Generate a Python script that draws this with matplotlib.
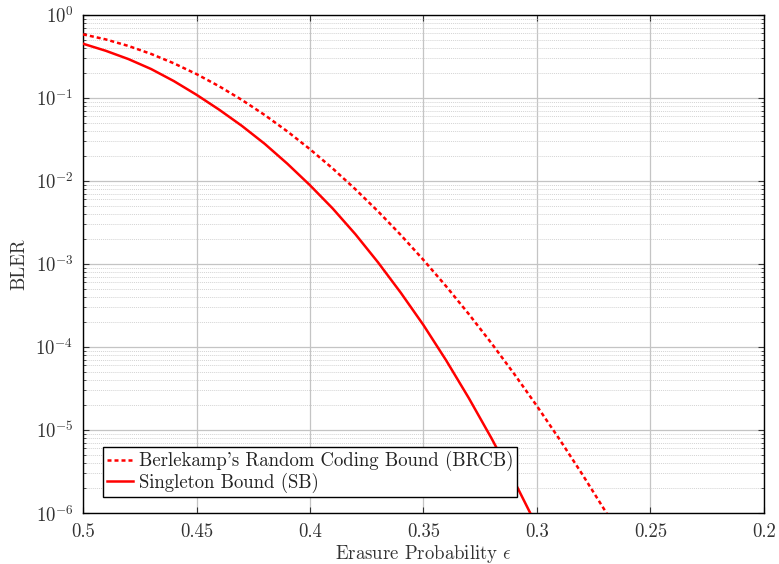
import math
import matplotlib
matplotlib.use("Agg")
import matplotlib.pyplot as plt
from matplotlib.ticker import FixedLocator, FuncFormatter, LogLocator, NullFormatter

plt.rcParams["font.family"] = ["cmr10", "DejaVu Serif"]
plt.rcParams["mathtext.fontset"] = "cm"
plt.rcParams["axes.formatter.use_mathtext"] = True

# Singleton bound
eps_sb = [0.50, 0.49, 0.48, 0.47, 0.46, 0.45, 0.44, 0.43, 0.42, 0.41, 0.40,
          0.39, 0.38, 0.37, 0.36, 0.35, 0.34, 0.33, 0.32, 0.31, 0.30]
bler_sb = [0.4508, 0.3707, 0.2944, 0.2234, 0.1600, 0.1094, 0.07228, 0.04613,
           0.02812, 0.01618, 0.008892, 0.004667, 0.002286, 0.001045,
           4.508e-4, 1.837e-4, 6.90e-5, 2.42e-5, 7.93e-6, 2.42e-6, 6.90e-7]

# Berlekamp's random coding bound
eps_brcb = [0.50, 0.49, 0.48, 0.47, 0.46, 0.45, 0.44, 0.43, 0.42, 0.41, 0.40,
            0.39, 0.38, 0.37, 0.36, 0.35, 0.34, 0.33, 0.32, 0.31, 0.30, 0.29,
            0.28, 0.27, 0.26]
bler_brcb = [0.5848, 0.5082, 0.4236, 0.3396, 0.2618, 0.1941, 0.1384, 0.09484,
             0.06252, 0.03963, 0.02415, 0.01416, 0.007962, 0.004305,
             0.002239, 0.001119, 5.383e-4, 2.489e-4, 1.107e-4, 4.732e-5,
             1.945e-5, 7.69e-6, 2.92e-6, 1.067e-6, 3.74e-7]

x_ticks = [0.5, 0.45, 0.4, 0.35, 0.3, 0.25, 0.2]
x_tick_labels = ["0.5", "0.45", "0.4", "0.35", "0.3", "0.25", "0.2"]
y_ticks = [1e-6, 1e-5, 1e-4, 1e-3, 1e-2, 1e-1, 1e0]

label_brcb = "Berlekamp's Random Coding Bound (BRCB)"
label_sb = "Singleton Bound (SB)"

FS = 13.5

fig = plt.figure(figsize=(7.79, 5.64), dpi=100)
ax = fig.add_axes([0.1066, 0.0904, 0.874, 0.883])

ax.plot(eps_brcb, bler_brcb, color="#ff0000", lw=1.8, ls=(0, (1.6, 1.2)),
        label=label_brcb, zorder=3)
ax.plot(eps_sb, bler_sb, color="#ff0000", lw=1.8, ls="-",
        label=label_sb, zorder=3)

ax.set_yscale("log")
ax.set_xlim(0.5, 0.2)
ax.set_ylim(1e-6, 1e0)

ax.xaxis.set_major_locator(FixedLocator(x_ticks))
ax.set_xticklabels(x_tick_labels)
ax.yaxis.set_major_locator(FixedLocator(y_ticks))
ax.yaxis.set_major_formatter(FuncFormatter(lambda v, p: r"$10^{%d}$" % round(math.log10(v))))
ax.yaxis.set_minor_locator(LogLocator(base=10, subs=range(2, 10), numticks=20))
ax.yaxis.set_minor_formatter(NullFormatter())

ax.grid(True, which="major", color="#c4c4c4", lw=0.9, ls="-", zorder=0)
ax.grid(True, which="minor", axis="y", color="#d4d4d4", lw=0.7, ls=(0, (1, 1)), zorder=0)

ax.tick_params(which="both", direction="in", top=True, right=True,
               labelsize=FS, colors="#333333", labelcolor="#333333")
ax.tick_params(which="major", length=4, width=0.8, pad=7)
ax.tick_params(which="minor", length=2, width=0.6)
for s in ax.spines.values():
    s.set_color("black")
    s.set_linewidth(1.0)

ax.set_xlabel(r"Erasure Probability $\epsilon$", fontsize=FS, color="#333333", labelpad=2)
ax.set_ylabel("BLER", fontsize=FS, color="#333333", labelpad=5)

leg = ax.legend(loc="lower left", bbox_to_anchor=(0.029, 0.032), fontsize=FS,
                frameon=True, fancybox=False, framealpha=1.0, edgecolor="black",
                handlelength=1.4, handletextpad=0.3, borderpad=0.22,
                labelspacing=0.08, borderaxespad=0.0)
leg.get_frame().set_linewidth(1.0)
for t in leg.get_texts():
    t.set_color("#222222")

fig.savefig("out.png", dpi=100)
